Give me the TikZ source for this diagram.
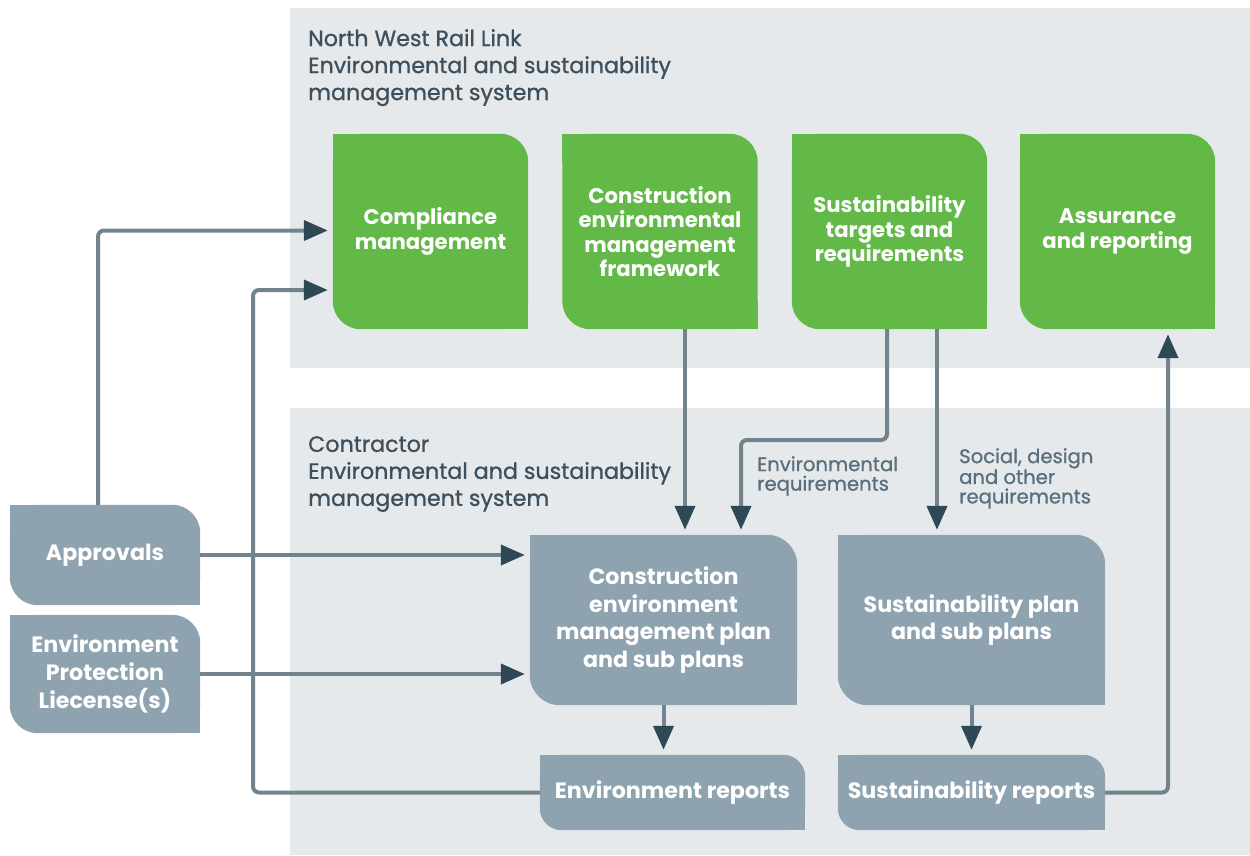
\documentclass[tikz,border=0pt]{standalone}
\usepackage{fontspec}
\setmainfont{Poppins}
\newfontfamily\medfont[FakeBold=0.9]{Poppins}
\usetikzlibrary{arrows.meta,backgrounds,calc}
\definecolor{gboxc}{HTML}{63B947}
\definecolor{sboxc}{HTML}{8EA2B0}
\definecolor{panelc}{HTML}{E5E9EC}
\definecolor{titlec}{HTML}{3E4F5B}
\definecolor{labc}{HTML}{5B6E7B}
\definecolor{linec}{HTML}{72838E}
\definecolor{tipc}{HTML}{2E4856}
\newcommand\tabfill[3]{%
  \fill[#2,rounded corners=#3pt] (#1.north west) rectangle (#1.south east);
  \fill[#2] (#1.north west) rectangle ++(#3,#3);
  \fill[#2] (#1.south east) rectangle ++(-#3,-#3);
}
\begin{document}
\begin{tikzpicture}[x=1pt,y=-1pt,
  gtab/.style={minimum width=195pt,minimum height=195pt,inner sep=0pt,align=center,text=white,font=\fontsize{21.2}{24.5}\selectfont\bfseries},
  stab/.style={inner sep=0pt,align=center,text=white,font=\fontsize{22.2}{27.8}\selectfont\bfseries},
  ptitle/.style={anchor=north west,inner sep=0pt,align=left,text=titlec,font=\fontsize{22.2}{27}\medfont},
  lab/.style={anchor=north west,inner sep=0pt,align=left,text=labc,font=\fontsize{19.6}{19.5}\medfont},
  conn/.style={draw=linec,line width=4pt,rounded corners=6pt,shorten >=5pt,
    -{Triangle[length=24pt,width=20pt,color=tipc]}}]
\useasboundingbox (0,0) rectangle (1250,855);

% top green boxes
\node[gtab] (b1) at (430.5,231.5) {Compliance\\management};
\node[gtab] (b2) at (660,231.5) {Construction\\environmental\\management\\framework};
\node[gtab] (b3) at (889.5,231.5) {Sustainability\\targets and\\requirements};
\node[gtab] (b4) at (1117.5,231.5) {Assurance\\and reporting};

% grey boxes
\node[stab,minimum width=190pt,minimum height=100pt] (appr) at (105,555) {Approvals};
\node[stab,minimum width=190pt,minimum height=118pt] (epl) at (105,674) {Environment\\Protection\\Liecense(s)};
\node[stab,minimum width=267pt,minimum height=170pt] (cemp) at (663.5,620) {Construction\\environment\\management plan\\and sub plans};
\node[stab,minimum width=267pt,minimum height=170pt] (sp) at (971.5,620) {Sustainability plan\\and sub plans};
\node[stab,minimum width=265pt,minimum height=75pt] (er) at (672.5,792.5) {Environment reports};
\node[stab,minimum width=267pt,minimum height=75pt] (sr) at (971.5,792.5) {Sustainability reports};

% titles
\node[ptitle] (t1) at (308,29) {North West Rail Link\\Environmental and sustainability\\management system};
\node[ptitle] (t2) at (308,436) {Contractor\\Environmental and sustainability\\management system};

% labels
\node[lab] (l1) at (757,456) {Environmental\\requirements};
\node[lab] (l2) at (959,448) {Social, design\\and other\\requirements};

\begin{pgfonlayer}{background}
  \fill[panelc] (290,8) rectangle (1250,368);
  \fill[panelc] (290,408) rectangle (1250,855);
  \tabfill{b1}{gboxc}{28}
  \tabfill{b2}{gboxc}{28}
  \tabfill{b3}{gboxc}{28}
  \tabfill{b4}{gboxc}{28}
  \tabfill{appr}{sboxc}{28}
  \tabfill{epl}{sboxc}{28}
  \tabfill{cemp}{sboxc}{30}
  \tabfill{sp}{sboxc}{30}
  \tabfill{er}{sboxc}{22}
  \tabfill{sr}{sboxc}{22}
\end{pgfonlayer}

% connectors
\coordinate (k0) at (98,230.5);
\coordinate (k1) at (253,290);
\coordinate (k2) at (685,0);
\coordinate (k4) at (887,440);
\coordinate (k3) at (741,440);
\coordinate (k5) at (937,0);
\coordinate (k6) at (1168,792.5);

\draw[conn] (appr.north -| k0) -- (k0) -- (k0 -| b1.west);
\draw[conn] (er.west) -| (k1) -- (k1 -| b1.west);
\draw[conn] (appr.east) -- (appr.east -| cemp.west);
\draw[conn] (epl.east) -- (epl.east -| cemp.west);
\draw[conn] (b2.south -| k2) -- (cemp.north -| k2);
\draw[conn] (b3.south -| k4) -- (k4) -- (k3) -- (cemp.north -| k3);
\draw[conn] (b3.south -| k5) -- (sp.north -| k5);
\draw[conn] (cemp.south) -- (cemp.south |- er.north);
\draw[conn] (sp.south) -- (sp.south |- sr.north);
\draw[conn] (sr.east) -- (k6) -- (k6 |- b4.south);
\end{tikzpicture}
\end{document}
